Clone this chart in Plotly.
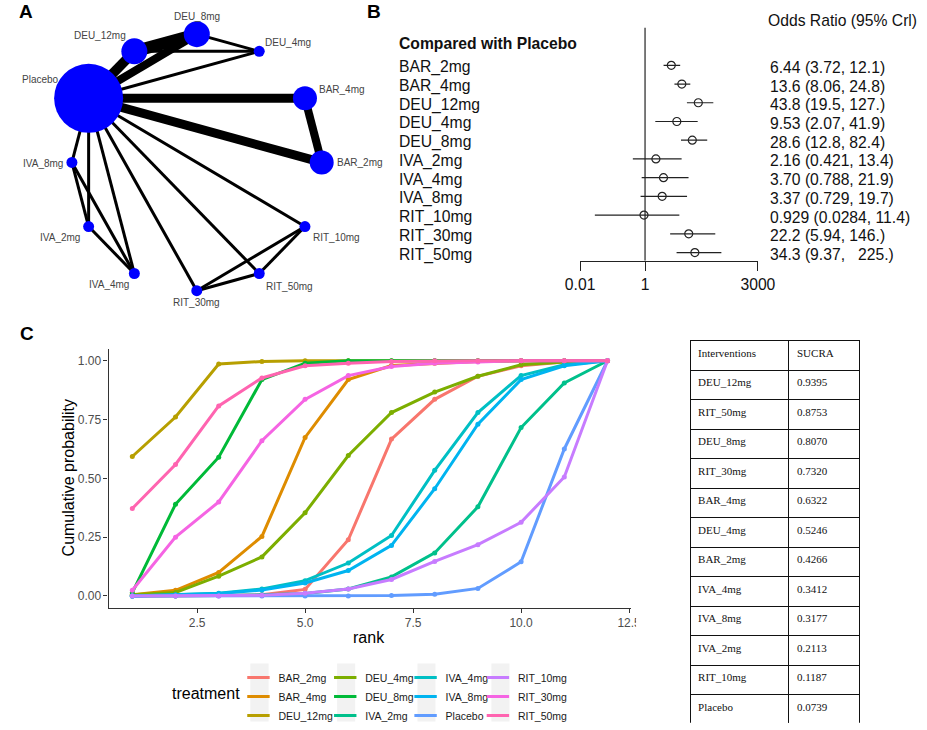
import numpy as np
import plotly.graph_objects as go

W, H = 927, 730


def fx(p):
    return p / W


def fy(p):
    return 1 - p / H


# ---------------- Panel A: network data ----------------
net_nodes = ["BAR_2mg", "BAR_4mg", "DEU_4mg", "DEU_8mg", "DEU_12mg", "Placebo",
             "IVA_8mg", "IVA_2mg", "IVA_4mg", "RIT_30mg", "RIT_50mg", "RIT_10mg"]
net_node_size = [24, 24, 11, 26, 26, 69, 11, 11, 11, 11, 11, 11]
edge_from = ["Placebo", "Placebo", "DEU_12mg", "Placebo", "DEU_12mg", "DEU_8mg",
             "Placebo", "Placebo", "BAR_4mg",
             "Placebo", "Placebo", "Placebo", "IVA_8mg", "IVA_8mg", "IVA_2mg",
             "Placebo", "Placebo", "Placebo", "RIT_30mg", "RIT_30mg", "RIT_50mg"]
edge_to = ["DEU_12mg", "DEU_8mg", "DEU_8mg", "DEU_4mg", "DEU_4mg", "DEU_4mg",
           "BAR_4mg", "BAR_2mg", "BAR_2mg",
           "IVA_8mg", "IVA_2mg", "IVA_4mg", "IVA_2mg", "IVA_4mg", "IVA_4mg",
           "RIT_10mg", "RIT_30mg", "RIT_50mg", "RIT_10mg", "RIT_50mg", "RIT_10mg"]
edge_studies = [3.3, 2.7, 4, 1, 1, 1,
                3, 3, 2.7,
                1, 1, 1, 1, 1, 1,
                1, 1, 1, 1, 1, 1]

# ---------------- Panel B: forest data ----------------
forest_labels = ["BAR_2mg", "BAR_4mg", "DEU_12mg", "DEU_4mg", "DEU_8mg", "IVA_2mg",
                 "IVA_4mg", "IVA_8mg", "RIT_10mg", "RIT_30mg", "RIT_50mg"]
or_est = [6.44, 13.6, 43.8, 9.53, 28.6, 2.16, 3.70, 3.37, 0.929, 22.2, 34.3]
or_lo = [3.72, 8.06, 19.5, 2.07, 12.8, 0.421, 0.788, 0.729, 0.0284, 5.94, 9.37]
or_hi = [12.1, 24.8, 127, 41.9, 82.4, 13.4, 21.9, 19.7, 11.4, 146, 225]
or_text = ["6.44 (3.72, 12.1)", "13.6 (8.06, 24.8)", "43.8 (19.5, 127.)",
           "9.53 (2.07, 41.9)", "28.6 (12.8, 82.4)", "2.16 (0.421, 13.4)",
           "3.70 (0.788, 21.9)", "3.37 (0.729, 19.7)", "0.929 (0.0284, 11.4)",
           "22.2 (5.94, 146.)", "34.3 (9.37,   225.)"]
forest_ticks = [0.01, 1, 3000]

# ---------------- Panel C: cumulative ranking ----------------
ranks = list(range(1, 13))
treatments = ["BAR_2mg", "BAR_4mg", "DEU_12mg", "DEU_4mg", "DEU_8mg", "IVA_2mg",
              "IVA_4mg", "IVA_8mg", "Placebo", "RIT_10mg", "RIT_30mg", "RIT_50mg"]
cum_BAR_2mg = [0.0, 0.0, 0.002, 0.005, 0.028, 0.239, 0.667, 0.836, 0.934, 0.979, 0.995, 1.0]
cum_BAR_4mg = [0.005, 0.024, 0.10, 0.253, 0.674, 0.92, 0.98, 0.99, 0.997, 1.0, 1.0, 1.0]
cum_DEU_12mg = [0.593, 0.761, 0.986, 0.997, 1.0, 1.0, 1.0, 1.0, 1.0, 1.0, 1.0, 1.0]
cum_DEU_4mg = [0.005, 0.015, 0.084, 0.166, 0.354, 0.597, 0.78, 0.867, 0.934, 0.983, 0.995, 1.0]
cum_DEU_8mg = [0.014, 0.39, 0.59, 0.92, 0.99, 1.0, 1.0, 1.0, 1.0, 1.0, 1.0, 1.0]
cum_IVA_2mg = [0.0, 0.0, 0.002, 0.005, 0.01, 0.03, 0.081, 0.183, 0.379, 0.716, 0.906, 1.0]
cum_IVA_4mg = [0.0, 0.005, 0.012, 0.03, 0.065, 0.14, 0.257, 0.534, 0.78, 0.937, 0.983, 1.0]
cum_IVA_8mg = [0.0, 0.004, 0.01, 0.025, 0.055, 0.108, 0.215, 0.456, 0.73, 0.92, 0.979, 1.0]
cum_Placebo = [0.0, 0.0, 0.0, 0.0, 0.0, 0.0, 0.002, 0.007, 0.032, 0.145, 0.625, 1.0]
cum_RIT_10mg = [0.0, 0.0, 0.0, 0.003, 0.012, 0.03, 0.07, 0.147, 0.218, 0.313, 0.506, 1.0]
cum_RIT_30mg = [0.024, 0.25, 0.40, 0.66, 0.836, 0.937, 0.976, 0.99, 0.995, 1.0, 1.0, 1.0]
cum_RIT_50mg = [0.372, 0.559, 0.808, 0.927, 0.979, 0.99, 0.997, 1.0, 1.0, 1.0, 1.0, 1.0]
cum_probs = [cum_BAR_2mg, cum_BAR_4mg, cum_DEU_12mg, cum_DEU_4mg, cum_DEU_8mg, cum_IVA_2mg,
             cum_IVA_4mg, cum_IVA_8mg, cum_Placebo, cum_RIT_10mg, cum_RIT_30mg, cum_RIT_50mg]
x_ticks = [2.5, 5.0, 7.5, 10.0, 12.5]
y_ticks = [0.0, 0.25, 0.5, 0.75, 1.0]

# ---------------- SUCRA table ----------------
sucra_names = ["DEU_12mg", "RIT_50mg", "DEU_8mg", "RIT_30mg", "BAR_4mg", "DEU_4mg",
               "BAR_2mg", "IVA_4mg", "IVA_8mg", "IVA_2mg", "RIT_10mg", "Placebo"]
sucra_values = [0.9395, 0.8753, 0.8070, 0.7320, 0.6322, 0.5246,
                0.4266, 0.3412, 0.3177, 0.2113, 0.1187, 0.0739]

# ---------------- styles ----------------
SANS = "Liberation Sans, Arial, sans-serif"
SERIF = "Liberation Serif, Times New Roman, serif"
hue = ["#F8766D", "#DE8C00", "#B79F00", "#7CAE00", "#00BA38", "#00C08B",
       "#00BFC4", "#00B4F0", "#619CFF", "#C77CFF", "#F564E3", "#FF64B0"]

fig = go.Figure()

# ====== Panel A ======
ang = 2 * np.pi * np.arange(len(net_nodes)) / len(net_nodes)
cx, cy, R = 188.5, 164.0, 129.5
node_x = cx + R * np.cos(ang)
node_y = cy - R * np.sin(ang)
pos = {n: (x, y) for n, x, y in zip(net_nodes, node_x, node_y)}

for w in sorted(set(edge_studies)):
    xs, ys = [], []
    for a, b, s in zip(edge_from, edge_to, edge_studies):
        if s == w:
            xs += [pos[a][0], pos[b][0], None]
            ys += [pos[a][1], pos[b][1], None]
    fig.add_trace(go.Scatter(x=xs, y=ys, mode="lines", xaxis="x", yaxis="y",
                             line=dict(color="black", width=3 * w),
                             hoverinfo="skip", showlegend=False))

fig.add_trace(go.Scatter(x=node_x, y=node_y, mode="markers", xaxis="x", yaxis="y",
                         marker=dict(size=net_node_size, color="#0000FF", line=dict(width=0), opacity=1),
                         text=net_nodes, hoverinfo="text", showlegend=False))

label_style = {
    "Placebo": (-29, -19, "right"),
    "DEU_12mg": (-7, -16, "right"),
    "DEU_8mg": (0, -18, "center"),
    "DEU_4mg": (4, -8.5, "left"),
    "BAR_4mg": (12, -8.5, "left"),
    "BAR_2mg": (14, 0, "left"),
    "IVA_8mg": (-7, 1, "right"),
    "IVA_2mg": (-7, 10.6, "right"),
    "IVA_4mg": (-3, 11.2, "right"),
    "RIT_30mg": (0, 12, "center"),
    "RIT_50mg": (5, 13.2, "left"),
    "RIT_10mg": (6, 10.6, "left"),
}
annotations = []
for n in net_nodes:
    dx, dy, anc = label_style[n]
    annotations.append(dict(x=pos[n][0] + dx, y=pos[n][1] + dy, xref="x", yref="y",
                            text=n, showarrow=False, xanchor=anc, yanchor="middle",
                            font=dict(family=SANS, size=10, color="#444444")))

# ====== Panel B ======
rows = list(range(len(forest_labels)))
ci_x, ci_y = [], []
for i, lo, hi in zip(rows, or_lo, or_hi):
    ci_x += [lo, hi, None]
    ci_y += [i, i, None]
fig.add_trace(go.Scatter(x=ci_x, y=ci_y, mode="lines", xaxis="x2", yaxis="y2",
                         line=dict(color="#222222", width=1.2), hoverinfo="skip", showlegend=False))
fig.add_trace(go.Scatter(x=or_est, y=rows, mode="markers", xaxis="x2", yaxis="y2",
                         marker=dict(symbol="circle-open", size=8, color="#222222", line=dict(width=1.2)),
                         text=forest_labels, hoverinfo="text+x", showlegend=False))
for i, lab, txt in zip(rows, forest_labels, or_text):
    annotations.append(dict(x=fx(395.7), y=i, xref="paper", yref="y2", text=lab, showarrow=False,
                            xanchor="left", yanchor="middle", yshift=-2,
                            font=dict(family=SANS, size=15.7, color="#111111")))
    annotations.append(dict(x=fx(781), y=i, xref="paper", yref="y2",
                            text=txt.replace(" ", "&nbsp;") if "   " in txt else txt,
                            showarrow=False, xanchor="left", yanchor="middle", yshift=-2,
                            font=dict(family=SANS, size=15.7, color="#111111")))
annotations.append(dict(x=fx(395.7), y=fy(44), xref="paper", yref="paper", text="<b>Compared with Placebo</b>",
                        showarrow=False, xanchor="left", yanchor="middle",
                        font=dict(family=SANS, size=15.7, color="#111111")))
annotations.append(dict(x=fx(779), y=fy(21), xref="paper", yref="paper", text="Odds Ratio (95% Crl)",
                        showarrow=False, xanchor="left", yanchor="middle",
                        font=dict(family=SANS, size=15.7, color="#111111")))

shapes = [dict(type="line", xref="x2", yref="y2", x0=1, x1=1, y0=-2.0, y1=10.44,
               line=dict(color="#222222", width=1.2))]

# ====== Panel C ======
leg_ids = ["legend", "legend2", "legend3", "legend4"]
for k, (name, vals, col) in enumerate(zip(treatments, cum_probs, hue)):
    fig.add_trace(go.Scatter(x=ranks, y=vals, mode="lines+markers", name=name,
                             xaxis="x3", yaxis="y3",
                             line=dict(color=col, width=3),
                             marker=dict(color=col, size=5),
                             showlegend=False))
for k, (name, col) in enumerate(zip(treatments, hue)):
    fig.add_trace(go.Scatter(x=[None], y=[None], mode="markers", name=name,
                             xaxis="x3", yaxis="y3", legend=leg_ids[k // 3],
                             marker=dict(symbol="line-ew", size=16, color=col,
                                         line=dict(color=col, width=3)),
                             showlegend=True))

annotations.append(dict(x=fx(366.7), y=fy(643.5), xref="paper", yref="paper", text="rank",
                        showarrow=False, xanchor="center", yanchor="middle",
                        font=dict(family=SANS, size=16, color="black")))
annotations.append(dict(x=fx(55), y=fy(483), xref="paper", yref="paper", text="Cumulative probability",
                        showarrow=False, xanchor="center", yanchor="middle", textangle=-90,
                        font=dict(family=SANS, size=16, color="black")))
annotations.append(dict(x=fx(235), y=fy(700), xref="paper", yref="paper", text="treatment",
                        showarrow=False, xanchor="right", yanchor="middle",
                        font=dict(family=SANS, size=16, color="black")))

key_cols = [(244, 263), (334, 352.7), (417.3, 436), (494, 512.7)]
for x0, x1 in key_cols:
    shapes.append(dict(type="rect", xref="paper", yref="paper", x0=fx(x0), x1=fx(x1),
                       y0=fy(728.5), y1=fy(670), fillcolor="#F2F2F2", line=dict(width=0), layer="below"))
# the 12.5 tick label is cropped at the panel edge in the original figure
shapes.append(dict(type="rect", xref="paper", yref="paper", x0=fx(644), x1=fx(665),
                   y0=fy(640), y1=fy(616), fillcolor="white", line=dict(width=0), layer="above"))

# panel letters
for letter, px, py in [("A", 2, 12), ("B", 363, 12), ("C", 3, 337)]:
    annotations.append(dict(x=fx(px), y=fy(py), xref="paper", yref="paper", text="<b>%s</b>" % letter,
                            showarrow=False, xanchor="left", yanchor="middle",
                            font=dict(family=SANS, size=19, color="black")))

# ====== SUCRA table ======
fig.add_trace(go.Table(
    domain=dict(x=[fx(700), fx(876)], y=[fy(730), fy(344)]),
    columnwidth=[103, 73],
    header=dict(values=["Interventions", "SUCRA"], height=29.5, align="left",
                line=dict(color="#111111", width=1), fill=dict(color="white"),
                font=dict(family=SERIF, size=11, color="#111111")),
    cells=dict(values=[sucra_names, sucra_values], format=[None, ".4f"], height=29.5, align="left",
               line=dict(color="#111111", width=1), fill=dict(color="white"),
               font=dict(family=SERIF, size=11, color="#111111")),
))

axis_common = dict(showgrid=False, zeroline=False)
layout = dict(
    width=W, height=H, autosize=False,
    margin=dict(l=0, r=0, t=0, b=0),
    paper_bgcolor="white", plot_bgcolor="rgba(0,0,0,0)",
    annotations=annotations, shapes=shapes,
    xaxis=dict(domain=[0, fx(380)], range=[0, 380], visible=False, **axis_common),
    yaxis=dict(domain=[fy(320), 1], range=[320, 0], visible=False, **axis_common),
    xaxis2=dict(domain=[fx(586), fx(770.3)], type="log", range=[-2, np.log10(3000)],
                tickvals=forest_ticks, ticktext=["0.01", "1", "3000"], ticks="outside", ticklen=9,
                tickcolor="#222222", showline=True, linecolor="#222222", linewidth=1.2,
                tickfont=dict(family=SANS, size=15.7, color="#111111"), anchor="y2", **axis_common),
    yaxis2=dict(domain=[fy(263.3), fy(20)], range=[10.44, -2.43], visible=False, anchor="x2", **axis_common),
    xaxis3=dict(domain=[fx(97), fx(639)], range=[0.45, 12.55], tickvals=x_ticks, tickformat=".1f",
                ticks="outside", ticklen=4, tickcolor="#333333", showline=True, linecolor="#333333",
                linewidth=1.1, tickfont=dict(family=SANS, size=12, color="#4D4D4D"), anchor="y3", **axis_common),
    yaxis3=dict(domain=[fy(613.6), fy(352.4)], range=[-0.05, 1.05], tickvals=y_ticks, tickformat=".2f",
                ticks="outside", ticklen=4, tickcolor="#333333", showline=True, linecolor="#333333",
                linewidth=1.1, tickfont=dict(family=SANS, size=12, color="#4D4D4D"), anchor="x3", **axis_common),
    showlegend=True,
)
text_x = [271.7, 361.7, 445, 520]
for lid, tx in zip(leg_ids, text_x):
    layout[lid] = dict(x=fx(tx - 40), y=fy(669.5), xanchor="left", yanchor="top",
                       bgcolor="rgba(0,0,0,0)", borderwidth=0, tracegroupgap=0,
                       font=dict(family=SANS, size=10.5, color="#1a1a1a"),
                       itemclick=False, itemdoubleclick=False)
fig.update_layout(**layout)

fig.write_html("out.html", config={"displayModeBar": False},
               post_script="document.body.style.margin='0';document.body.style.overflow='hidden';")
